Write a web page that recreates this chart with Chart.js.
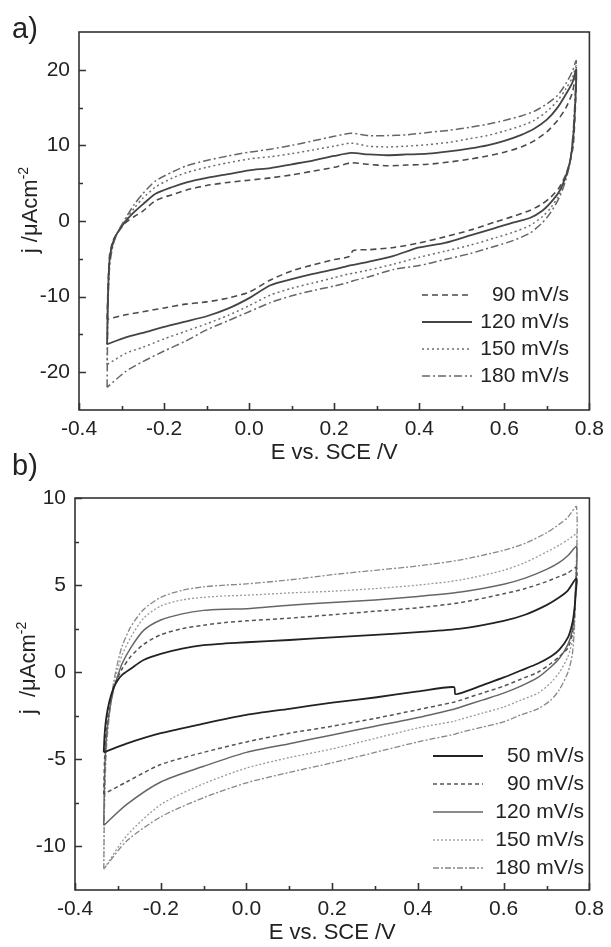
<!DOCTYPE html>
<html>
<head>
<meta charset="utf-8">
<script src="https://cdn.jsdelivr.net/npm/chart.js@4.4.1/dist/chart.umd.min.js"></script>
<style>
  body { margin: 0; background: #fff; }
  #wrap { position: relative; width: 611px; height: 947px; font-family: "Liberation Sans", Arial, sans-serif; color: #222; }
  canvas { position: absolute; left: 0; }
  .tag { position: absolute; left: 12px; font-size: 29px; line-height: 1; }
  .ytitle { position: absolute; font-size: 22px; line-height: 1; white-space: pre; transform: translate(-50%, -50%) rotate(-90deg); }
  .ytitle sup { font-size: 14px; vertical-align: 9px; line-height: 0; }
</style>
</head>
<body>
<div id="wrap">
  <canvas id="cvA" width="611" height="470" style="top:0"></canvas>
  <canvas id="cvB" width="611" height="477" style="top:470px"></canvas>
  <div class="tag" style="top:14px">a)</div>
  <div class="tag" style="top:451px">b)</div>
  <div class="ytitle" style="left:30px; top:210px">j /&mu;Acm<sup>-2</sup></div>
  <div class="ytitle" style="left:28px; top:668px">j  /&mu;Acm<sup>-2</sup></div>
</div>
<script>
// ---- panel a) : potential (V) along the loop, anodic sweep then cathodic sweep
const eA = [
  -0.334, -0.332, -0.328, -0.32, -0.31, -0.29, -0.27, -0.25, -0.22, -0.18, -0.147, -0.10, -0.05, 0.0, 0.05, 0.10, 0.15, 0.20, 0.24, 0.28, 0.325, 0.37, 0.42, 0.47, 0.52, 0.56, 0.60, 0.64, 0.67, 0.70, 0.725, 0.745, 0.76, 0.769,
  0.767, 0.762, 0.755, 0.745, 0.73, 0.71, 0.69, 0.66, 0.62, 0.58, 0.52, 0.46, 0.40, 0.34, 0.28, 0.245, 0.235, 0.20, 0.15, 0.10, 0.05, 0.0, -0.05, -0.10, -0.15, -0.20, -0.25, -0.29, -0.334
];
const jA90 = [
  -13.0, -9.0, -4.5, -2.6, -1.6, -0.2, 0.6, 1.3, 2.7, 3.5, 4.1, 4.7, 5.1, 5.4, 5.7, 6.1, 6.6, 7.1, 7.7, 7.5, 7.3, 7.4, 7.5, 7.8, 8.2, 8.6, 9.1, 9.8, 10.6, 11.8, 13.3, 15.0, 17.0, 19.5,
  15.0, 10.0, 8.0, 6.2, 4.5, 3.2, 2.3, 1.4, 0.6, -0.1, -1.2, -2.1, -2.9, -3.5, -3.8, -3.9, -4.7, -5.1, -5.8, -6.6, -7.8, -9.4, -10.2, -10.7, -11.0, -11.5, -12.0, -12.4, -13.0
];
const jA120 = [
  -16.3, -10.0, -5.0, -2.8, -1.6, 0.0, 1.2, 2.2, 3.6, 4.5, 5.1, 5.7, 6.2, 6.7, 7.0, 7.5, 8.0, 8.6, 9.0, 8.8, 8.7, 8.8, 8.9, 9.2, 9.6, 10.0, 10.6, 11.4, 12.2, 13.4, 15.0, 16.8, 18.3, 20.0,
  16.0, 11.0, 8.0, 6.0, 4.0, 2.5, 1.4, 0.4, -0.2, -0.9, -1.9, -2.9, -3.5, -4.6, -5.4, -5.8, -5.9, -6.4, -7.0, -7.7, -8.5, -10.2, -11.6, -12.6, -13.3, -14.0, -14.8, -15.4, -16.3
];
const jA150 = [
  -19.0, -11.0, -5.5, -3.0, -1.6, 0.2, 1.7, 3.0, 4.5, 5.7, 6.4, 7.1, 7.7, 8.2, 8.5, 8.9, 9.4, 9.9, 10.3, 9.9, 9.8, 9.9, 10.1, 10.4, 10.9, 11.3, 11.9, 12.6, 13.3, 14.5, 15.9, 17.5, 19.0, 20.5,
  16.5, 11.5, 8.0, 5.8, 3.6, 1.8, 0.6, -0.6, -1.5, -2.2, -3.2, -4.0, -4.8, -5.7, -6.5, -6.9, -7.0, -7.5, -8.2, -8.9, -9.8, -11.2, -12.5, -13.6, -14.6, -15.6, -16.7, -17.5, -19.0
];
const jA180 = [
  -22.0, -12.0, -6.0, -3.2, -1.6, 0.4, 2.2, 3.6, 5.3, 6.5, 7.3, 8.0, 8.6, 9.1, 9.5, 10.0, 10.6, 11.2, 11.6, 11.3, 11.3, 11.4, 11.7, 12.0, 12.4, 12.8, 13.3, 13.9, 14.5, 15.5, 16.6, 18.2, 19.8, 21.2,
  17.0, 12.0, 8.0, 5.5, 3.2, 1.2, -0.2, -1.6, -2.6, -3.3, -4.3, -5.1, -5.9, -6.4, -7.4, -7.9, -8.1, -8.6, -9.2, -9.9, -10.8, -12.0, -13.2, -14.4, -15.9, -17.2, -18.6, -19.9, -22.0
];
const labelsA = ["90 mV/s", "120 mV/s", "150 mV/s", "180 mV/s"];

// ---- panel b)
const eB = [
  -0.333, -0.331, -0.327, -0.32, -0.31, -0.30, -0.29, -0.27, -0.24, -0.20, -0.15, -0.10, -0.05, 0.0, 0.1, 0.2, 0.3, 0.4, 0.5, 0.6, 0.65, 0.70, 0.73, 0.75, 0.77,
  0.768, 0.765, 0.76, 0.75, 0.73, 0.71, 0.68, 0.64, 0.60, 0.55, 0.50, 0.487, 0.484, 0.40, 0.30, 0.20, 0.10, 0.0, -0.10, -0.20, -0.28, -0.333
];
const jB50 = [
  -4.6, -3.6, -2.6, -1.7, -0.9, -0.45, -0.15, 0.2, 0.7, 1.05, 1.35, 1.55, 1.65, 1.72, 1.85, 2.0, 2.14, 2.3, 2.5, 2.95, 3.3, 3.85, 4.3, 4.7, 5.4,
  4.5, 3.6, 2.8, 2.0, 1.3, 0.9, 0.5, 0.1, -0.3, -0.75, -1.2, -1.25, -0.85, -1.1, -1.45, -1.75, -2.1, -2.45, -2.95, -3.5, -4.1, -4.6
];
const jB90 = [
  -7.0, -5.0, -3.2, -2.0, -0.9, -0.3, 0.2, 0.9, 1.6, 2.15, 2.5, 2.7, 2.85, 2.95, 3.1, 3.3, 3.5, 3.7, 4.0, 4.5, 4.8, 5.2, 5.5, 5.7, 6.0,
  4.5, 3.2, 2.2, 1.4, 0.9, 0.5, 0.0, -0.4, -0.8, -1.2, -1.6, -1.7, -1.72, -2.15, -2.65, -3.1, -3.5, -4.0, -4.6, -5.3, -6.3, -7.0
];
const jB120 = [
  -8.8, -6.0, -3.8, -2.3, -1.0, -0.2, 0.5, 1.4, 2.4, 3.0, 3.35, 3.55, 3.62, 3.65, 3.85, 4.0, 4.15, 4.35, 4.6, 5.05, 5.4, 5.9, 6.3, 6.7, 7.2,
  5.0, 3.5, 2.4, 1.6, 0.8, 0.3, -0.3, -0.8, -1.2, -1.6, -2.0, -2.1, -2.12, -2.6, -3.1, -3.6, -4.1, -4.6, -5.4, -6.3, -7.6, -8.8
];
const jB150 = [
  -11.3, -7.0, -4.0, -2.3, -0.8, 0.2, 1.0, 2.0, 3.1, 3.8, 4.15, 4.3, 4.38, 4.42, 4.55, 4.65, 4.8, 5.0, 5.3, 5.85, 6.3, 6.9, 7.3, 7.6, 7.9,
  5.0, 3.0, 1.8, 0.9, 0.0, -0.6, -1.2, -1.6, -2.0, -2.35, -2.7, -2.8, -2.82, -3.2, -3.8, -4.4, -4.9, -5.5, -6.4, -7.6, -9.4, -11.3
];
const jB180 = [
  -11.3, -7.5, -4.5, -2.5, -0.6, 0.6, 1.5, 2.6, 3.6, 4.3, 4.7, 4.9, 5.0, 5.07, 5.3, 5.6, 5.85, 6.1, 6.45, 7.0, 7.4, 8.0, 8.5, 8.9, 9.5,
  5.0, 2.5, 1.0, 0.0, -1.0, -1.6, -2.1, -2.45, -2.85, -3.15, -3.45, -3.55, -3.57, -4.0, -4.6, -5.2, -5.75, -6.35, -7.2, -8.3, -9.7, -11.3
];
const labelsB = ["50 mV/s", "90 mV/s", "120 mV/s", "150 mV/s", "180 mV/s"];

// axis ticks
const eTicks = [-0.4, -0.2, 0.0, 0.2, 0.4, 0.6, 0.8];
const eMinor = [-0.3, -0.1, 0.1, 0.3, 0.5, 0.7];
const jTicksA = [-20, -10, 0, 10, 20];
const jMinorA = [-15, -5, 5, 15];
const jTicksB = [-10, -5, 0, 5, 10];
const jMinorB = [-7.5, -2.5, 2.5, 7.5];

const FONT = "'Liberation Sans', Arial, sans-serif";
const INK = "#222";

function pts(xs, ys) {
  return xs.map((x, i) => ({ x: x, y: ys[i] }));
}

// box around the plot + inward ticks on bottom and left
const framePlugin = {
  id: "frame",
  afterDraw(chart, args, opts) {
    const { ctx, chartArea: a } = chart;
    const x = chart.scales.x, y = chart.scales.y;
    ctx.save();
    ctx.strokeStyle = "#333";
    ctx.lineWidth = 1.6;
    ctx.strokeRect(a.left, a.top, a.right - a.left, a.bottom - a.top);
    ctx.beginPath();
    const tickX = (v, len) => {
      const p = Math.round(x.getPixelForValue(v)) + 0.5;
      ctx.moveTo(p, a.bottom); ctx.lineTo(p, a.bottom - len);
    };
    const tickY = (v, len) => {
      const p = Math.round(y.getPixelForValue(v)) + 0.5;
      ctx.moveTo(a.left, p); ctx.lineTo(a.left + len, p);
    };
    opts.xMajor.forEach(v => tickX(v, 7));
    opts.xMinor.forEach(v => tickX(v, 4));
    opts.yMajor.forEach(v => tickY(v, 7));
    opts.yMinor.forEach(v => tickY(v, 4));
    ctx.stroke();
    ctx.restore();
  }
};

// put the legend inside the plot, lower right
const legendSpot = {
  id: "legendSpot",
  afterLayout(chart, args, opts) {
    const lg = chart.legend;
    if (!lg) return;
    const pad = opts.pad;
    lg.left = opts.lineX - pad;
    lg.right = opts.textRight;
    lg.top = opts.rowY - opts.fontSize / 2 - pad;
    lg.bottom = chart.chartArea.bottom;
  }
};

function makeChart(canvasId, cfg) {
  const canvas = document.getElementById(canvasId);
  const ctx = canvas.getContext("2d");
  const datasets = cfg.series.map((s, i) => ({
    label: cfg.labels[i],
    data: pts(cfg.e, s.j),
    showLine: true,
    borderColor: s.color,
    borderWidth: s.width,
    borderDash: s.dash,
    pointRadius: 0,
    tension: 0.25,
    fill: false
  }));

  return new Chart(ctx, {
    type: "scatter",
    data: { datasets: datasets },
    plugins: [framePlugin, legendSpot],
    options: {
      responsive: false,
      animation: false,
      layout: { padding: { left: 0, right: 18, top: cfg.top, bottom: 0 } },
      scales: {
        x: {
          type: "linear",
          min: -0.4,
          max: 0.8,
          grid: { display: false, drawTicks: false },
          border: { display: false },
          afterBuildTicks: (s) => { s.ticks = eTicks.map(v => ({ value: v })); },
          afterFit: (s) => { s.height = cfg.xHeight; },
          ticks: {
            padding: 7,
            color: INK,
            font: { family: FONT, size: 21 },
            maxRotation: 0,
            callback: (v) => Number(v).toFixed(1)
          },
          title: {
            display: true,
            text: "E vs. SCE /V",
            color: INK,
            font: { family: FONT, size: 22 },
            padding: { top: 0, bottom: cfg.xTitlePad }
          }
        },
        y: {
          type: "linear",
          min: cfg.yMin,
          max: cfg.yMax,
          grid: { display: false, drawTicks: false },
          border: { display: false },
          afterBuildTicks: (s) => { s.ticks = cfg.yTicks.map(v => ({ value: v })); },
          afterFit: (s) => { s.width = cfg.yWidth; },
          ticks: {
            padding: 9,
            color: INK,
            font: { family: FONT, size: 21 }
          }
        }
      },
      plugins: {
        legend: {
          position: "chartArea",
          align: "start",
          labels: {
            usePointStyle: true,
            pointStyleWidth: 50,
            padding: cfg.legend.pad,
            textAlign: "right",
            color: INK,
            font: { family: FONT, size: cfg.legend.fontSize },
            generateLabels: (chart) => chart.data.datasets.map((ds, i) => ({
              text: ds.label,
              datasetIndex: i,
              fillStyle: ds.borderColor,
              strokeStyle: ds.borderColor,
              lineWidth: ds.borderWidth,
              lineDash: ds.borderDash,
              pointStyle: "line",
              fontColor: INK,
              hidden: false
            }))
          }
        },
        tooltip: { enabled: false },
        frame: { xMajor: eTicks, xMinor: eMinor, yMajor: cfg.yTicks, yMinor: cfg.yMinor },
        legendSpot: cfg.legend
      }
    }
  });
}

makeChart("cvA", {
  e: eA,
  labels: labelsA,
  series: [
    { j: jA90, color: "#4a4a4a", width: 1.6, dash: [6, 4] },
    { j: jA120, color: "#444444", width: 1.8, dash: [] },
    { j: jA150, color: "#6e6e6e", width: 1.5, dash: [2, 3] },
    { j: jA180, color: "#666666", width: 1.5, dash: [8, 3, 2, 3] }
  ],
  top: 32, xHeight: 60, yWidth: 79, yMin: -25, yMax: 25,
  yTicks: jTicksA, yMinor: jMinorA, xTitlePad: 4,
  legend: { lineX: 422, textRight: 569, rowY: 295, fontSize: 21, pad: 6 }
});

makeChart("cvB", {
  e: eB,
  labels: labelsB,
  series: [
    { j: jB50, color: "#222222", width: 1.8, dash: [] },
    { j: jB90, color: "#555555", width: 1.5, dash: [4, 3] },
    { j: jB120, color: "#666666", width: 1.5, dash: [] },
    { j: jB150, color: "#9a9a9a", width: 1.3, dash: [2, 2] },
    { j: jB180, color: "#888888", width: 1.3, dash: [6, 2, 2, 2] }
  ],
  top: 28, xHeight: 57, yWidth: 75, yMin: -12.5, yMax: 10,
  yTicks: jTicksB, yMinor: jMinorB, xTitlePad: 1,
  legend: { lineX: 433, textRight: 584, rowY: 286, fontSize: 21, pad: 7 }
});
</script>
</body>
</html>
